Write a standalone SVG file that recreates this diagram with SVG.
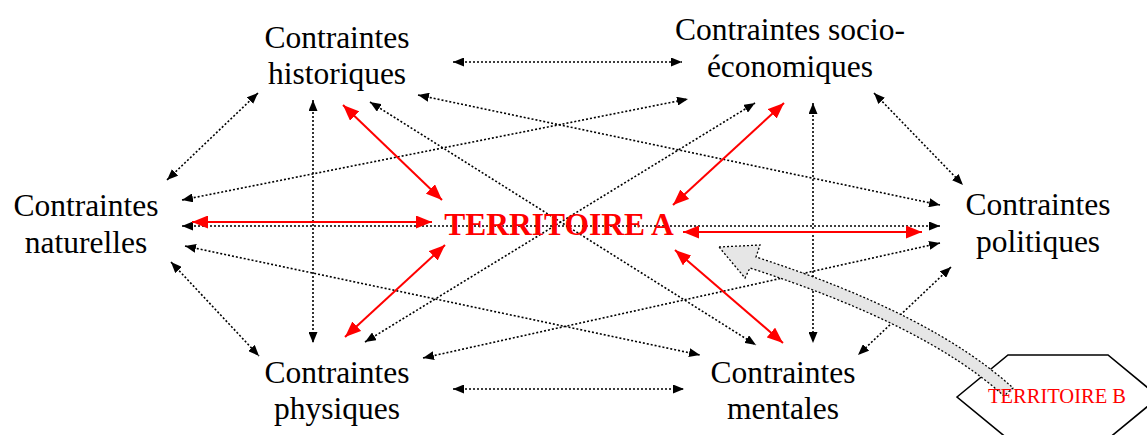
<svg xmlns="http://www.w3.org/2000/svg" width="1147" height="435" viewBox="0 0 1147 435">
<style>
.lbl{font-family:"Liberation Serif","Times New Roman",serif;font-size:31.5px;fill:#000;text-anchor:middle}
.dot{stroke:#000;stroke-width:1.6;stroke-dasharray:2 2;fill:none;marker-start:url(#bk);marker-end:url(#bk)}
.red{stroke:#f00;stroke-width:2;fill:none;marker-start:url(#rd);marker-end:url(#rd)}
</style>
<defs>
<marker id="bk" viewBox="0 0 11 9" refX="11" refY="4.5" markerWidth="11" markerHeight="9" markerUnits="userSpaceOnUse" orient="auto-start-reverse"><path d="M0,0 L11,4.5 L0,9 z" fill="#000"/></marker>
<marker id="rd" viewBox="0 0 16 13" refX="16" refY="6.5" markerWidth="16" markerHeight="13" markerUnits="userSpaceOnUse" orient="auto-start-reverse"><path d="M0,0 L16,6.5 L0,13 z" fill="#f00"/></marker>
</defs>
<rect width="1147" height="435" fill="#fff"/>
<g id="connectors">
<line class="dot" x1="453" y1="62" x2="682" y2="62"/>
<line class="dot" x1="258" y1="93" x2="167" y2="180"/>
<line class="dot" x1="313" y1="100" x2="313" y2="343"/>
<line class="dot" x1="813" y1="103" x2="813" y2="343"/>
<line class="dot" x1="874" y1="93" x2="963" y2="185"/>
<line class="dot" x1="171" y1="262" x2="259" y2="356"/>
<line class="dot" x1="951" y1="267" x2="858" y2="355"/>
<line class="dot" x1="453" y1="389" x2="684" y2="389"/>
<line class="dot" x1="418" y1="95" x2="940" y2="205"/>
<line class="dot" x1="182" y1="200" x2="688" y2="99"/>
<line class="dot" x1="370" y1="102" x2="756" y2="345"/>
<line class="dot" x1="365" y1="342" x2="755" y2="103"/>
<line class="dot" x1="185" y1="246" x2="700" y2="355"/>
<line class="dot" x1="423" y1="358" x2="940" y2="243"/>
<line class="dot" x1="182" y1="226" x2="940" y2="226"/>
<line class="red" x1="192" y1="222" x2="432" y2="222"/>
<line class="red" x1="683" y1="232" x2="922" y2="232"/>
<line class="red" x1="343" y1="105" x2="442" y2="200"/>
<line class="red" x1="345" y1="337" x2="445" y2="245"/>
<line class="red" x1="784" y1="103" x2="673" y2="205"/>
<line class="red" x1="675" y1="250" x2="783" y2="343"/>
</g>
<g id="node-historiques"><text class="lbl" x="337" y="48">Contraintes</text><text class="lbl" x="337" y="84">historiques</text></g>
<g id="node-socio"><text class="lbl" x="790" y="40">Contraintes socio-</text><text class="lbl" x="790" y="77">économiques</text></g>
<g id="node-naturelles"><text class="lbl" x="86" y="216">Contraintes</text><text class="lbl" x="86" y="253">naturelles</text></g>
<g id="node-politiques"><text class="lbl" x="1038" y="215">Contraintes</text><text class="lbl" x="1038" y="252">politiques</text></g>
<g id="node-physiques"><text class="lbl" x="337" y="383">Contraintes</text><text class="lbl" x="337" y="419">physiques</text></g>
<g id="node-mentales"><text class="lbl" x="783" y="383">Contraintes</text><text class="lbl" x="783" y="419">mentales</text></g>
<g id="node-territoire-a"><text x="559" y="235" font-family="Liberation Serif, Times New Roman, serif" font-size="31.5" font-weight="bold" fill="#f00" text-anchor="middle">TERRITOIRE A</text></g>
<g id="node-territoire-b">
<polygon points="957,397 1008,355 1108,355 1159,397 1108,439 1008,439" fill="#fff" stroke="#000" stroke-width="1.6"/>
<path d="M719,247 L760,245 L756,257 Q932,314 1013,388 L1004,396 Q926,325 750,268 L745,278 Z" fill="#e6e6e6" stroke="#000" stroke-width="1.3" stroke-dasharray="2 2"/>
<text x="1057" y="403" font-family="Liberation Serif, Times New Roman, serif" font-size="20.5" fill="#f00" text-anchor="middle">TERRITOIRE B</text>
</g>
</svg>
